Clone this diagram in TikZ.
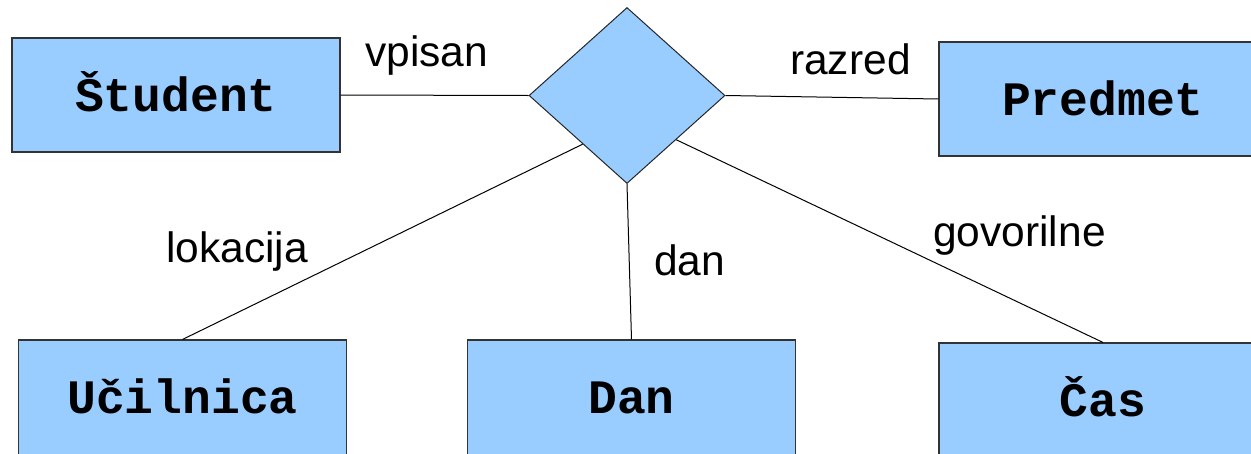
\documentclass[tikz,border=0pt]{standalone}
\usepackage{fontspec}
\setmainfont{Liberation Sans}
\setmonofont{Liberation Mono}
\usetikzlibrary{shapes.geometric,calc}
\definecolor{boxblue}{HTML}{99CCFF}
\definecolor{edgegray}{HTML}{333333}
\begin{document}
\begin{tikzpicture}[x=1pt,y=-1pt,
  entity/.style={draw=edgegray, fill=boxblue, line width=1.1pt, rectangle,
    minimum width=328pt, minimum height=114pt, inner sep=0pt,
    text height=32pt, text depth=0pt,
    font=\fontsize{48}{48}\selectfont\ttfamily\bfseries},
  lowentity/.style={entity, minimum height=130pt, text height=16pt},
  relation/.style={draw=black!85, fill=boxblue, line width=1pt, diamond,
    minimum width=196pt, minimum height=176pt, inner sep=0pt},
  conn/.style={draw=black, line width=1pt},
  lbl/.style={anchor=base west, inner sep=0pt, font=\fontsize{42.5}{42.5}\selectfont}]
\useasboundingbox (0,0) rectangle (1251,453);
\node[entity] (student) at (176,95) {Študent};
\node[entity] (predmet) at (1103,99) {Predmet};
\node[lowentity] (ucilnica) at (182.5,405) {Učilnica};
\node[lowentity] (dan) at (631.5,405) {Dan};
\node[lowentity] (cas) at (1103,408) {Čas};
\node[relation] (rel) at (627,95.5) {};
\coordinate (ll) at ($(rel.west)!0.55!(rel.south)$);
\coordinate (lr) at ($(rel.south)!0.5!(rel.east)$);
\draw[conn] (student.east) -- (rel.west);
\draw[conn] (rel.east) -- (predmet.west);
\draw[conn] (ll) -- (ucilnica.north);
\draw[conn] (rel.south) -- (dan.north);
\draw[conn] (lr) -- (cas.north);
\node[lbl] (lvpisan) at (365,66) {vpisan};
\node[lbl] (lrazred) at (790,74) {razred};
\node[lbl] (llokacija) at (166,262) {lokacija};
\node[lbl] (ldan) at (654,275) {dan};
\node[lbl] (lgovorilne) at (933,246) {govorilne};
\end{tikzpicture}
\end{document}
